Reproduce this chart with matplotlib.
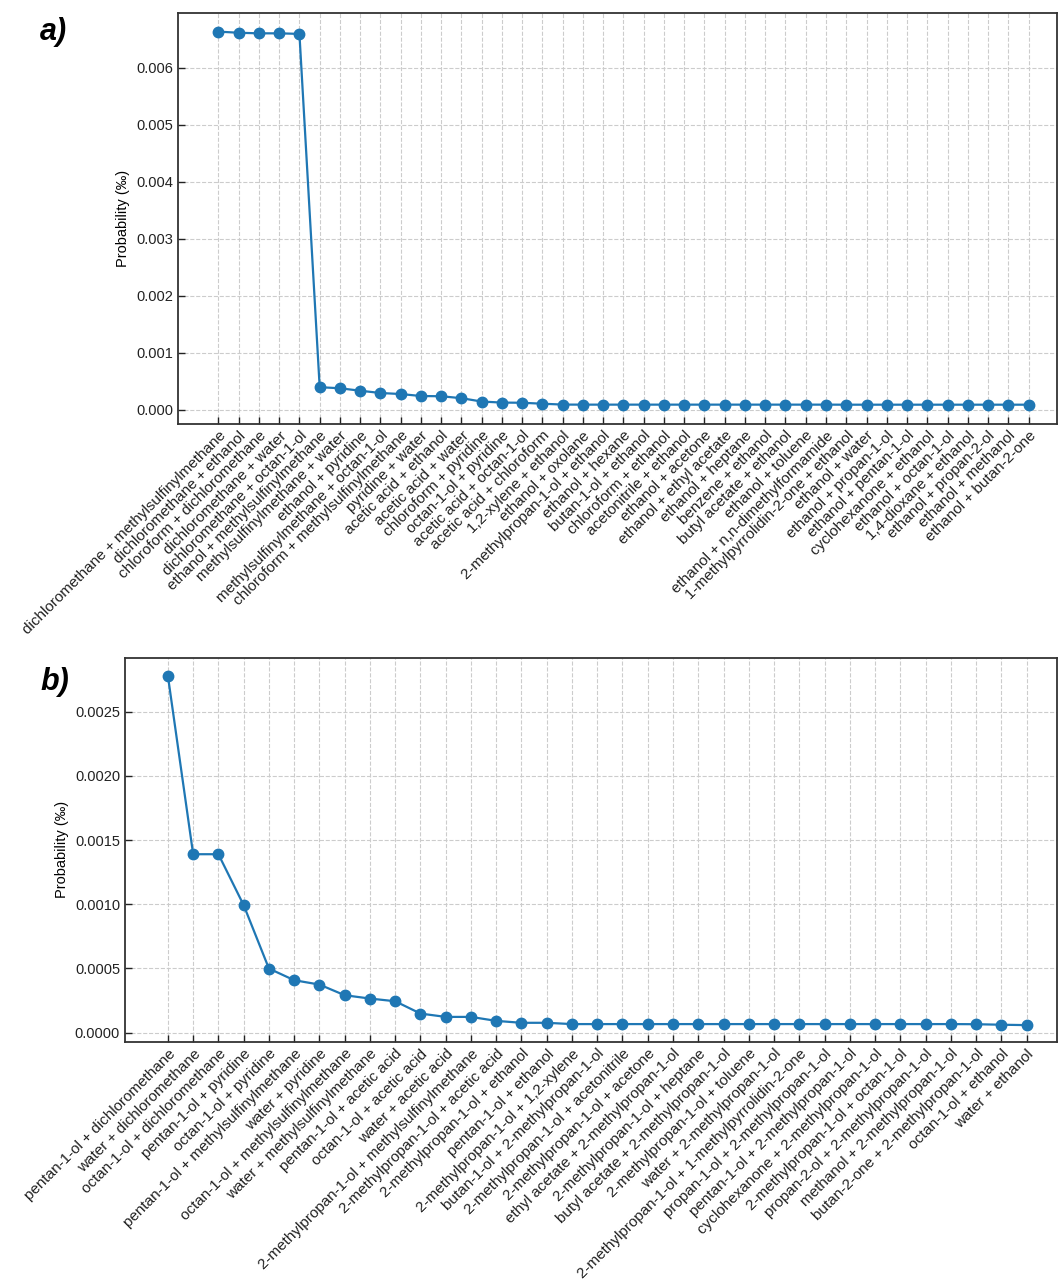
import matplotlib
matplotlib.use("Agg")
import matplotlib.pyplot as plt
from matplotlib.ticker import FormatStrFormatter, MultipleLocator

plt.rcParams['font.family'] = ['Liberation Sans', 'DejaVu Sans']

# panel a: ethanol-ish pairs
labels_a = [
    "dichloromethane + methylsulfinylmethane", "dichloromethane + ethanol",
    "chloroform + dichloromethane", "dichloromethane + water",
    "dichloromethane + octan-1-ol", "ethanol + methylsulfinylmethane",
    "methylsulfinylmethane + water", "ethanol + pyridine",
    "methylsulfinylmethane + octan-1-ol", "chloroform + methylsulfinylmethane",
    "pyridine + water", "acetic acid + ethanol", "acetic acid + water",
    "chloroform + pyridine", "octan-1-ol + pyridine", "acetic acid + octan-1-ol",
    "acetic acid + chloroform", "1,2-xylene + ethanol", "ethanol + oxolane",
    "2-methylpropan-1-ol + ethanol", "ethanol + hexane", "butan-1-ol + ethanol",
    "chloroform + ethanol", "acetonitrile + ethanol", "ethanol + acetone",
    "ethanol + ethyl acetate", "ethanol + heptane", "benzene + ethanol",
    "butyl acetate + ethanol", "ethanol + toluene",
    "ethanol + n,n-dimethylformamide", "1-methylpyrrolidin-2-one + ethanol",
    "ethanol + water", "ethanol + propan-1-ol", "ethanol + pentan-1-ol",
    "cyclohexanone + ethanol", "ethanol + octan-1-ol", "1,4-dioxane + ethanol",
    "ethanol + propan-2-ol", "ethanol + methanol", "ethanol + butan-2-one",
]
prob_a = [
    0.00663, 0.00661, 0.00660, 0.00660, 0.00659, 0.000395, 0.000376, 0.000333,
    0.000293, 0.000275, 0.000240, 0.000236, 0.000202, 0.000143, 0.000125,
    0.000122, 0.000105, 0.000090, 0.000089, 0.000089, 0.000089, 0.000089,
    0.000089, 0.000089, 0.000089, 0.000089, 0.000089, 0.000089, 0.000089,
    0.000089, 0.000089, 0.000088, 0.000088, 0.000088, 0.000088, 0.000088,
    0.000088, 0.000088, 0.000088, 0.000088, 0.000088,
]

# panel b
labels_b = [
    "pentan-1-ol + dichloromethane", "water + dichloromethane",
    "octan-1-ol + dichloromethane", "pentan-1-ol + pyridine",
    "octan-1-ol + pyridine", "pentan-1-ol + methylsulfinylmethane",
    "water + pyridine", "octan-1-ol + methylsulfinylmethane",
    "water + methylsulfinylmethane", "pentan-1-ol + acetic acid",
    "octan-1-ol + acetic acid", "water + acetic acid",
    "2-methylpropan-1-ol + methylsulfinylmethane",
    "2-methylpropan-1-ol + acetic acid", "2-methylpropan-1-ol + ethanol",
    "pentan-1-ol + ethanol", "2-methylpropan-1-ol + 1,2-xylene",
    "butan-1-ol + 2-methylpropan-1-ol", "2-methylpropan-1-ol + acetonitrile",
    "2-methylpropan-1-ol + acetone", "ethyl acetate + 2-methylpropan-1-ol",
    "2-methylpropan-1-ol + heptane", "butyl acetate + 2-methylpropan-1-ol",
    "2-methylpropan-1-ol + toluene", "water + 2-methylpropan-1-ol",
    "2-methylpropan-1-ol + 1-methylpyrrolidin-2-one",
    "propan-1-ol + 2-methylpropan-1-ol", "pentan-1-ol + 2-methylpropan-1-ol",
    "cyclohexanone + 2-methylpropan-1-ol", "2-methylpropan-1-ol + octan-1-ol",
    "propan-2-ol + 2-methylpropan-1-ol", "methanol + 2-methylpropan-1-ol",
    "butan-2-one + 2-methylpropan-1-ol", "octan-1-ol + ethanol", "water + ethanol",
]
prob_b = [
    0.00278, 0.00139, 0.00139, 0.000993, 0.000499, 0.000408, 0.000374,
    0.000291, 0.000265, 0.000244, 0.000148, 0.000122, 0.000122, 0.000091,
    0.000076, 0.000076, 0.000066, 0.000066, 0.000066, 0.000066, 0.000066,
    0.000066, 0.000066, 0.000066, 0.000066, 0.000066, 0.000066, 0.000066,
    0.000066, 0.000066, 0.000066, 0.000066, 0.000065, 0.000061, 0.000058,
]

blue = '#1f77b4'

fig = plt.figure(figsize=(10.59, 12.8), dpi=100)
ax1 = fig.add_axes([0.168, 0.669, 0.830, 0.321])
ax2 = fig.add_axes([0.118, 0.186, 0.880, 0.300])


def draw(ax, labels, vals, fmt, step, ylim, xlim):
    x = range(len(vals))
    ax.plot(x, vals, marker='o', color=blue, lw=1.6, ms=7.5)
    ax.set_xticks(list(x))
    ax.set_xticklabels(labels, rotation=45, ha='right', rotation_mode='anchor',
                       fontsize=11, color='#222222')
    ax.set_xlim(*xlim)
    ax.set_ylim(*ylim)
    ax.yaxis.set_major_locator(MultipleLocator(step))
    ax.yaxis.set_major_formatter(FormatStrFormatter(fmt))
    ax.set_ylabel('Probability (‰)', fontsize=10.5)
    ax.tick_params(direction='in', length=5, width=1, colors='#222222')
    ax.tick_params(axis='y', labelsize=10.5)
    ax.grid(True, ls='--', color='#cccccc', lw=0.8)
    for s in ax.spines.values():
        s.set_linewidth(1.3)
        s.set_color('#333333')


draw(ax1, labels_a, prob_a, '%.3f', 0.001, (-0.000245, 0.00696), (-2.0, 41.4))
draw(ax2, labels_b, prob_b, '%.4f', 0.0005, (-0.000073, 0.00292), (-1.7, 35.2))

fig.text(0.038, 0.975, 'a)', fontsize=22, fontweight='bold', style='italic',
         ha='left', va='center')
fig.text(0.038, 0.467, 'b)', fontsize=22, fontweight='bold', style='italic',
         ha='left', va='center')

fig.savefig('out.png', dpi=100)
